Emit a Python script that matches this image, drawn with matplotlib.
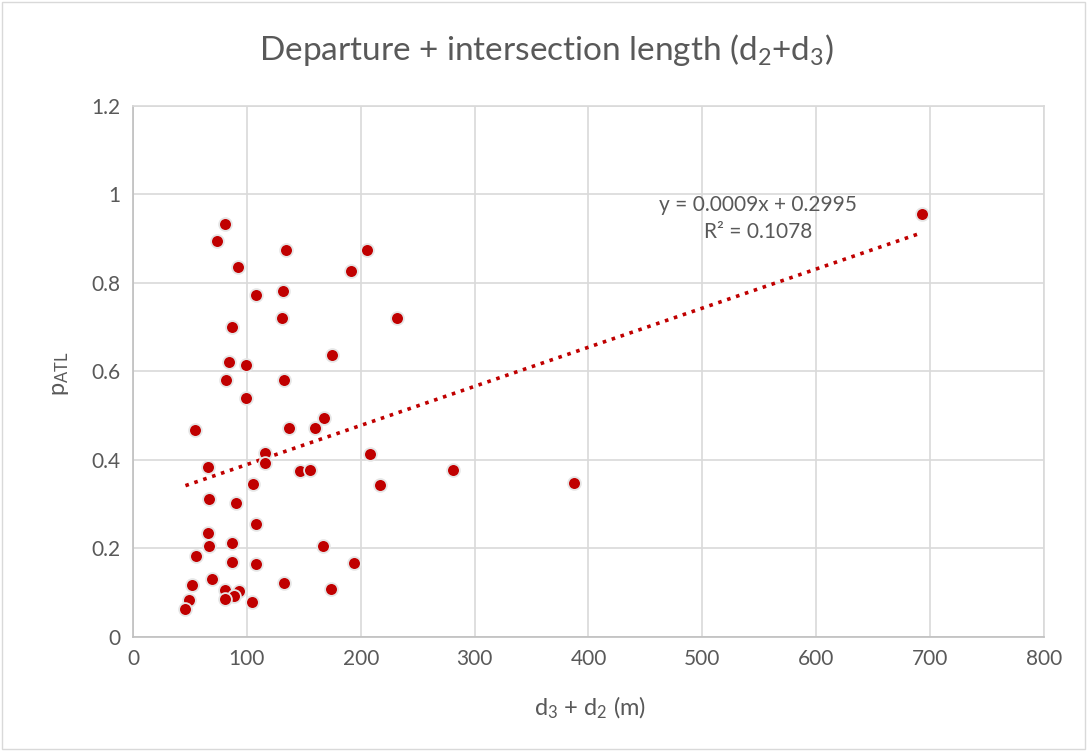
import numpy as np
import matplotlib
matplotlib.use("Agg")
import matplotlib.pyplot as plt
from matplotlib.patches import Rectangle

plt.rcParams['font.family'] = ['Lato', 'DejaVu Sans']
plt.rcParams['mathtext.default'] = 'regular'

# d3 + d2 (m)
dist = [81.2, 74.2, 134.2, 205.8, 92.1, 191.8, 107.9, 131.8, 130.7, 87.1,
        175.1, 83.9, 99.1, 82.1, 133.0, 99.1, 232.0,
        54.1, 137.1, 160.2, 167.8, 116.1, 116.1, 207.9, 66.1, 146.8, 155.8,
        105.8, 216.7, 66.9, 90.9, 107.9, 66.1, 66.9, 87.1, 166.7, 55.3,
        87.1, 107.9, 194.1, 69.8, 52.0, 133.0, 173.7, 81.2, 93.0, 89.1,
        80.4, 49.1, 104.9, 46.1, 281.0, 387.7, 693.2]
# p_ATL
p_atl = [0.933, 0.894, 0.875, 0.875, 0.836, 0.827, 0.772, 0.781, 0.721, 0.700,
         0.638, 0.621, 0.614, 0.581, 0.581, 0.540, 0.720,
         0.467, 0.473, 0.473, 0.494, 0.415, 0.394, 0.414, 0.384, 0.374, 0.377,
         0.345, 0.344, 0.312, 0.303, 0.255, 0.235, 0.206, 0.212, 0.206, 0.184,
         0.169, 0.165, 0.168, 0.130, 0.118, 0.122, 0.109, 0.106, 0.105, 0.092,
         0.086, 0.083, 0.079, 0.064, 0.378, 0.348, 0.956]

eq_text = "y = 0.0009x + 0.2995\nR² = 0.1078"

x = np.array(dist)
y = np.array(p_atl)
slope, intercept = np.polyfit(x, y, 1)
xt = np.array([x.min(), x.max()])

grey_txt = '#595959'
grid_c = '#d9d9d9'
red = '#c00000'

fig = plt.figure(figsize=(10.88, 7.51), dpi=100)
ax = fig.add_axes([0.1222, 0.1518, 0.8374, 0.7071])

ax.plot(xt, slope * xt + intercept, linestyle=(0, (1, 1.6)), color=red,
        linewidth=2.6, zorder=2)
ax.scatter(x, y, s=85, color=red, edgecolors='#e6e6e6', linewidths=1.3, zorder=3)

ax.set_xlim(0, 800)
ax.set_ylim(0, 1.2)
ax.set_xticks(np.arange(0, 801, 100))
ax.set_yticks([0, 0.2, 0.4, 0.6, 0.8, 1.0, 1.2])
ax.set_yticklabels(['0', '0.2', '0.4', '0.6', '0.8', '1', '1.2'])
ax.grid(True, color=grid_c, linewidth=1.2)
ax.set_axisbelow(True)
for s in ax.spines.values():
    s.set_color(grid_c)
    s.set_linewidth(1.2)
ax.spines['left'].set_color('#bfbfbf')
ax.spines['bottom'].set_color('#bfbfbf')
ax.tick_params(length=0, labelsize=15, colors=grey_txt, pad=9)

fig.text(0.502, 0.933, 'Departure + intersection length (d$_2$+d$_3$)', fontsize=24,
         color=grey_txt, ha='center', va='center')
ax.set_xlabel('d$_3$ + d$_2$ (m)', fontsize=17, color=grey_txt)
ax.xaxis.label.set_va('center')
ax.xaxis.set_label_coords(0.502, -0.134)
ax.set_ylabel('p$_{ATL}$', fontsize=17, color=grey_txt)
ax.yaxis.label.set_va('center')
ax.yaxis.set_label_coords(-0.080, 0.495)

ax.text(549, 0.946, eq_text, ha='center', va='center', fontsize=15,
        color=grey_txt, linespacing=1.45)

fig.patches.append(Rectangle((0.002, 0.003), 0.995, 0.994, transform=fig.transFigure,
                             fill=False, edgecolor=grid_c, linewidth=1))

fig.savefig('out.png', dpi=100)
